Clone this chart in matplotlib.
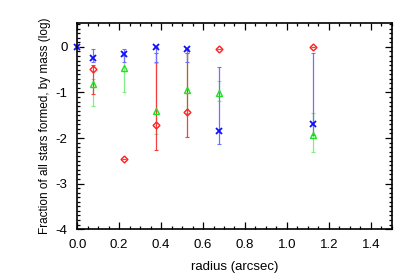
import numpy as np
import matplotlib.pyplot as plt
from matplotlib.ticker import MultipleLocator

plt.rcParams['font.family'] = ['Liberation Sans', 'DejaVu Sans']

# radius bins (arcsec)
r_blue = [0.0, 0.075, 0.225, 0.375, 0.525, 0.675, 1.125]
blue = [0.0, -0.25, -0.15, 0.0, -0.04, -1.84, -1.69]
blue_lo = [0.0, -0.34, -0.32, -0.32, -0.34, -2.13, -1.93]
blue_hi = [0.0, -0.05, -0.04, 0.0, -0.04, -0.45, -0.14]

r_red = [0.075, 0.225, 0.375, 0.525, 0.675, 1.125]
red = [-0.49, -2.47, -1.72, -1.43, -0.04, 0.0]
red_lo = [-1.03, -2.47, -2.27, -1.97, -0.04, 0.0]
red_hi = [-0.4, -2.47, -0.13, -0.14, -0.04, 0.0]

r_green = [0.075, 0.225, 0.375, 0.525, 0.675, 1.125]
green = [-0.81, -0.46, -1.41, -0.95, -1.01, -1.94]
green_lo = [-1.29, -0.98, -1.91, -1.45, -1.18, -2.31]
green_hi = [-0.7, -0.2, -0.36, -0.14, -0.74, -1.46]


def yerr(v, lo, hi):
    v = np.array(v)
    return [v - np.array(lo), np.array(hi) - v]


fig = plt.figure(figsize=(4.15, 2.77), dpi=100)
ax = fig.add_axes([0.186, 0.173, 0.758, 0.743])

ax.errorbar(r_green, green, yerr=yerr(green, green_lo, green_hi), fmt='none',
            ecolor='#80f080', elinewidth=0.9, capsize=1.5, capthick=0.8)
ax.errorbar(r_red, red, yerr=yerr(red, red_lo, red_hi), fmt='none',
            ecolor='#f04040', elinewidth=0.9, capsize=1.5, capthick=0.8)
ax.errorbar(r_blue, blue, yerr=yerr(blue, blue_lo, blue_hi), fmt='none',
            ecolor='#7070ff', elinewidth=0.9, capsize=1.5, capthick=0.8)

ax.plot(r_green, green, '^', ms=4.5, mfc='none', mec='#20e020', mew=1.0)
ax.plot(r_red, red, 'D', ms=3.5, mfc='none', mec='#ff2020', mew=1.0)
ax.plot(r_blue, blue, 'x', ms=4.5, color='#1010ff', mew=1.3, clip_on=False)

ax.set_xlim(0, 1.5)
ax.set_ylim(-4.0, 0.52)
ax.xaxis.set_major_locator(MultipleLocator(0.2))
ax.xaxis.set_minor_locator(MultipleLocator(0.05))
ax.yaxis.set_major_locator(MultipleLocator(1))
ax.yaxis.set_minor_locator(MultipleLocator(0.1))
ax.set_xticks(np.arange(0, 1.41, 0.2))
ax.set_xticklabels(['%.1f' % v for v in np.arange(0, 1.41, 0.2)])
ax.set_yticks([0, -1, -2, -3, -4])
ax.set_yticklabels(['0', '-1', '-2', '-3', '-4'])
ax.tick_params(which='both', direction='in', top=True, right=True, labelsize=9.5,
               width=0.9, pad=7)
ax.tick_params(which='major', length=5)
ax.tick_params(which='minor', length=2.5)
for s in ax.spines.values():
    s.set_linewidth(1.2)

ax.set_xlabel('radius (arcsec)', fontsize=9.5, labelpad=7)
ax.set_ylabel('Fraction of all stars formed, by mass (log)', fontsize=8.5, labelpad=3)

fig.savefig('out.png', dpi=100)
